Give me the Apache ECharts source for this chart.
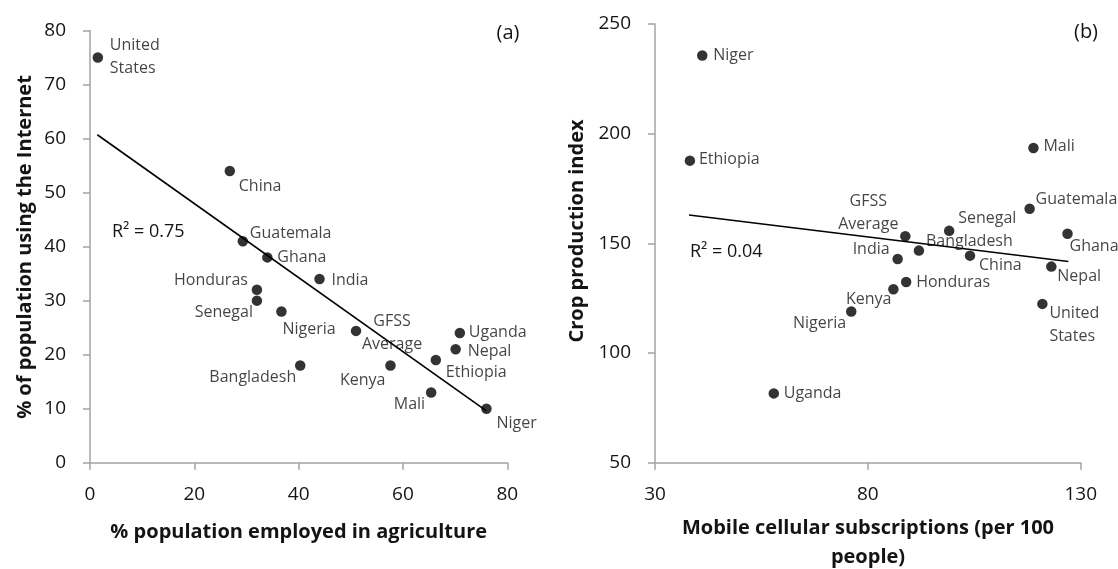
<!DOCTYPE html>
<html>
<head>
<meta charset="utf-8">
<script src="https://cdn.jsdelivr.net/npm/echarts@6/dist/echarts.min.js"></script>
<style>
html,body{margin:0;padding:0;background:#fff;}
#chart{width:1118px;height:569px;}
</style>
</head>
<body>
<div id="chart"></div>
<script>
// ---- Data: panel (a)
const countriesA = ['United States','China','Guatemala','Ghana','India','Honduras','Senegal','Nigeria','GFSS Average','Bangladesh','Kenya','Uganda','Nepal','Ethiopia','Mali','Niger'];
const agriEmployment = [1.5, 26.8, 29.3, 34, 44, 32, 32, 36.7, 51, 40.3, 57.6, 70.9, 70.1, 66.3, 65.4, 76];
const internetUse = [75, 54, 41, 38, 34, 32, 30, 28, 24.4, 18, 18, 24, 21, 19, 13, 10];
const trendAx = [1.4, 76];
const trendAy = [60.7, 9.6];
const r2A = 'R\u00B2 = 0.75';

// ---- Data: panel (b)
const countriesB = ['Niger','Ethiopia','Mali','Guatemala','GFSS Average','Senegal','Ghana','Bangladesh','India','China','Nepal','Honduras','Kenya','Nigeria','United States','Uganda'];
const mobileSubs = [41.1, 38.2, 118.9, 118, 88.8, 99.1, 126.9, 92, 87, 104, 123.1, 89, 86, 76.1, 121, 57.9];
const cropIndex = [235.6, 187.7, 193.5, 165.8, 153.2, 155.7, 154.4, 146.7, 142.9, 144.4, 139.4, 132.4, 129.1, 118.9, 122.4, 81.6];
const trendBx = [38, 127.1];
const trendBy = [162.9, 141.7];
const r2B = 'R\u00B2 = 0.04';

// ---- Axis ticks
const ticksA_x = {min: 0, max: 80, interval: 20};
const ticksA_y = {min: 0, max: 80, interval: 10};
const ticksB_x = {min: 30, max: 130, interval: 50};
const ticksB_y = {min: 50, max: 250, interval: 50};

// ---- Label placement (style only): offset from point centre, alignment
const labelPosA = {
  'United States': [12, -1, 'left'],
  'China': [9, 15, 'left'],
  'Guatemala': [7, -8, 'left'],
  'Ghana': [10, 0, 'left'],
  'India': [12, 1, 'left'],
  'Honduras': [-9, -9, 'right'],
  'Senegal': [-4, 12, 'right'],
  'Nigeria': [1, 18, 'left'],
  'GFSS Average': [36, 2, 'center'],
  'Bangladesh': [-4, 12, 'right'],
  'Kenya': [-5, 15, 'right'],
  'Uganda': [9, -1, 'left'],
  'Nepal': [12, 2, 'left'],
  'Ethiopia': [10, 12, 'left'],
  'Mali': [-6, 12, 'right'],
  'Niger': [10, 15, 'left']
};
const labelPosB = {
  'Niger': [11, 0, 'left'],
  'Ethiopia': [9, -1, 'left'],
  'Mali': [10, -1, 'left'],
  'Guatemala': [6, -9, 'left'],
  'GFSS Average': [-37, -23, 'center'],
  'Senegal': [9, -12, 'left'],
  'Ghana': [2, 13, 'left'],
  'Bangladesh': [7, -9, 'left'],
  'India': [-8, -9, 'right'],
  'China': [9, 10, 'left'],
  'Nepal': [6, 10, 'left'],
  'Honduras': [10, 0, 'left'],
  'Kenya': [-2, 10, 'right'],
  'Nigeria': [-5, 12, 'right'],
  'United States': [7, 21, 'left'],
  'Uganda': [10, 0, 'left']
};

const FONT = '"Open Sans", "Noto Sans", sans-serif';
const TXT = '#141414';
const SYM = 10.5;

function pointData(names, xs, ys, pos) {
  return names.map((n, i) => {
    const p = pos[n];
    const text = n === 'United States' ? 'United\nStates' : (n === 'GFSS Average' ? 'GFSS\nAverage' : n);
    return {
      name: n,
      value: [xs[i], ys[i]],
      label: {
        show: true,
        position: 'right',
        distance: 0,
        formatter: text,
        align: p[2],
        verticalAlign: 'middle',
        offset: [p[0] - SYM / 2, p[1]],
        lineHeight: 23,
        fontSize: 16,
        fontFamily: FONT,
        color: TXT
      }
    };
  });
}

function axisCommon(t, gi, margin) {
  return {
    type: 'value',
    gridIndex: gi,
    min: t.min, max: t.max, interval: t.interval,
    splitLine: {show: false},
    axisLine: {show: true, onZero: false, lineStyle: {color: '#a3a3a3', width: 1.5}},
    axisTick: {show: true, length: 7, inside: false, lineStyle: {color: '#a3a3a3', width: 1.5}},
    axisLabel: {fontSize: 19, color: TXT, fontFamily: FONT, margin: margin}
  };
}

const chart = echarts.init(document.getElementById('chart'), null, {renderer: 'canvas'});

const option = {
  backgroundColor: '#fff',
  animation: false,
  grid: [
    {left: 90, top: 30.5, width: 417.3, height: 432.2},
    {left: 655, top: 24, width: 425.7, height: 438.7}
  ],
  xAxis: [axisCommon(ticksA_x, 0, 22), axisCommon(ticksB_x, 1, 22)],
  yAxis: [axisCommon(ticksA_y, 0, 24), axisCommon(ticksB_y, 1, 24)],
  series: [
    {
      type: 'line', xAxisIndex: 0, yAxisIndex: 0,
      data: trendAx.map((x, i) => [x, trendAy[i]]),
      symbol: 'none', silent: true,
      lineStyle: {color: '#000', width: 1.6}
    },
    {
      type: 'scatter', xAxisIndex: 0, yAxisIndex: 0,
      symbolSize: SYM, itemStyle: {color: '#000'},
      data: pointData(countriesA, agriEmployment, internetUse, labelPosA)
    },
    {
      type: 'line', xAxisIndex: 1, yAxisIndex: 1,
      data: trendBx.map((x, i) => [x, trendBy[i]]),
      symbol: 'none', silent: true,
      lineStyle: {color: '#000', width: 1.6}
    },
    {
      type: 'scatter', xAxisIndex: 1, yAxisIndex: 1,
      symbolSize: SYM, itemStyle: {color: '#000'},
      data: pointData(countriesB, mobileSubs, cropIndex, labelPosB)
    }
  ],
  graphic: [
    {type: 'text', x: 508, y: 33, style: {text: '(a)', font: '20px ' + FONT, fill: TXT, textAlign: 'center', textVerticalAlign: 'middle'}},
    {type: 'text', x: 1086, y: 32, style: {text: '(b)', font: '20px ' + FONT, fill: TXT, textAlign: 'center', textVerticalAlign: 'middle'}},
    {type: 'text', x: 112, y: 232, style: {text: r2A, font: '18px ' + FONT, fill: TXT, textVerticalAlign: 'middle'}},
    {type: 'text', x: 690, y: 252, style: {text: r2B, font: '18px ' + FONT, fill: TXT, textVerticalAlign: 'middle'}},
    {type: 'text', x: 298.7, y: 532, style: {text: '% population employed in agriculture', font: 'bold 20px ' + FONT, fill: TXT, textAlign: 'center', textVerticalAlign: 'middle'}},
    {type: 'text', x: 868, y: 528, style: {text: 'Mobile cellular subscriptions (per 100', font: 'bold 20px ' + FONT, fill: TXT, textAlign: 'center', textVerticalAlign: 'middle'}},
    {type: 'text', x: 868, y: 557, style: {text: 'people)', font: 'bold 20px ' + FONT, fill: TXT, textAlign: 'center', textVerticalAlign: 'middle'}},
    {type: 'text', x: 25, y: 247, rotation: Math.PI / 2, style: {text: '% of population using the Internet', font: 'bold 20px ' + FONT, fill: TXT, textAlign: 'center', textVerticalAlign: 'middle'}},
    {type: 'text', x: 577, y: 231, rotation: Math.PI / 2, style: {text: 'Crop production index', font: 'bold 20px ' + FONT, fill: TXT, textAlign: 'center', textVerticalAlign: 'middle'}}
  ]
};
chart.setOption(option);
</script>
</body>
</html>
